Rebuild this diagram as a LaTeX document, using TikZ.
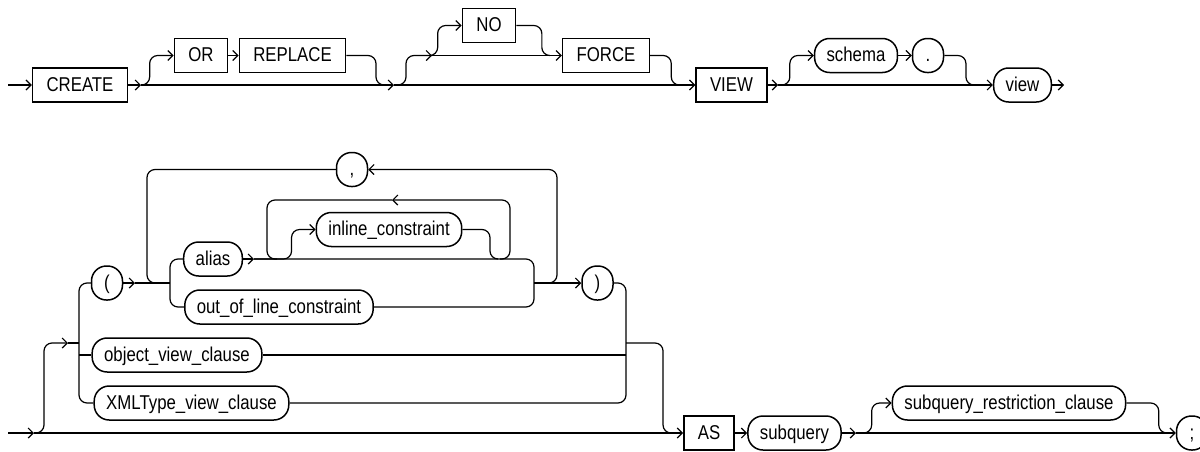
\documentclass[tikz,border=0pt]{standalone}
\usepackage{fontspec}
\setmainfont{Liberation Sans}[FakeStretch=0.84]
\usetikzlibrary{positioning,arrows.meta,calc}
\tikzset{
  kw/.style={rectangle,draw=black,line width=1.5pt,minimum height=34pt,
    inner xsep=14pt,text height=14.5pt,text depth=2pt,
    font=\fontsize{20}{24}\selectfont},
  nt/.style={kw,rounded corners=15pt,inner xsep=12pt,minimum width=31pt},
  rail/.style={line width=1.2pt,rounded corners=8pt},
  tip/.style={-{Straight Barb[length=5pt,width=10pt]}}
}
\begin{document}
\begin{tikzpicture}[x=1pt,y=-1pt]
\useasboundingbox (0,0) rectangle (1200,451);
\coordinate (s1) at (8,85);
\node[kw] (create) at (80,85) {CREATE};
\coordinate (j1) at (141,85);
\node[kw] (or) at (201,55.5) {OR};
\node[kw] (replace) at (292.5,55.5) {REPLACE};
\coordinate (j2) at (394,85);
\coordinate (j3) at (432,55.5);
\node[kw] (no) at (489,25.5) {NO};
\node[kw] (force) at (606,55.5) {FORCE};
\node[kw] (view) at (731.5,85) {VIEW};
\coordinate (j4) at (778,85);
\node[nt] (schema) at (856,55.5) {schema};
\node[nt] (dot) at (928,55.5) {.};
\node[nt] (vname) at (1022.5,85) {view};
\coordinate (e1) at (1064,85);
\draw[rail,tip] (s1) -- (create.west);
\draw[rail,tip] (create.east) -- (j1);
\draw[rail,tip] (j1) -| ($(or.west)+(-24,0)$) -- (or.west);
\draw[rail,tip] (or) -- (replace);
\draw[rail] (replace.east) -| ($(j2)+(-18,0)$) -- ++(8,0);
\draw[rail,tip] (j1) -- (j2);
\draw[rail,tip] (j2) -| ($(j3)+(-26,0)$) -- (j3);
\draw[rail,tip] (j3) -| ($(no.west)+(-24,0)$) -- (no.west);
\draw[rail,tip] (j3) -- (force.west);
\draw[rail] (no.east) -| ($(force.west)+(-20,0)$) -- ++(8,0);
\draw[rail] (force.east) -| ($(view.west)+(-24,0)$) -- ++(8,0);
\draw[rail,tip] (j2) -- (view.west);
\draw[rail,tip] (view.east) -- (j4);
\draw[rail,tip] (j4) -| ($(schema.west)+(-24,0)$) -- (schema.west);
\draw[rail,tip] (schema) -- (dot);
\draw[rail] (dot.east) -| ($(vname.west)+(-27,0)$) -- ++(8,0);
\draw[rail,tip] (j4) -- (vname.west);
\draw[rail,tip] (vname.east) -- (e1);
\coordinate (s2) at (8,433);
\coordinate (j5) at (34,433);
\coordinate (j6) at (68,343);
\coordinate (v1) at (79,343);
\node[nt] (lpar) at (107,283) {(};
\coordinate (j8) at (135,283);
\coordinate (ll) at (147,283);
\coordinate (ga) at (170,283);
\node[nt] (comma) at (352,169.5) {,};
\node[nt] (alias) at (213,259) {alias};
\coordinate (j9) at (254,259);
\coordinate (il) at (267,259);
\node[nt] (inl) at (389,229.5) {inline\_constraint};
\coordinate (la) at (392,200);
\coordinate (ir) at (510,259);
\node[nt] (oolc) at (279,307) {out\_of\_line\_constraint};
\coordinate (gb) at (534,283);
\coordinate (lr) at (557,283);
\node[nt] (rpar) at (597.5,283) {)};
\node[nt] (objv) at (177,355) {object\_view\_clause};
\node[nt] (xml) at (191.5,403) {XMLType\_view\_clause};
\coordinate (v2) at (626,343);
\node[kw] (as) at (709,433) {AS};
\node[nt] (subq) at (794.5,433) {subquery};
\coordinate (j7) at (856,433);
\node[nt] (sqr) at (1009,403) {subquery\_restriction\_clause};
\node[nt] (semi) at (1192,433) {;};
\draw[rail,tip] (s2) -- (j5);
\draw[rail,tip] (j5) -| ($(j6)+(-24,0)$) -- (j6);
\draw[rail] (j6) -- (v1);
\draw[rail] (lpar.west) -| (v1) |- (xml.west);
\draw[rail] (objv.west -| v1) -- (objv.west);
\draw[rail,tip] (lpar.east) -- (j8);
\draw[rail] (j8) -- (ga);
\draw[rail] (alias.west) -| (ga) |- (oolc.west);
\draw[rail] (comma.west) -| (ll) -- ++(10,0);
\draw[rail,tip] ($(lr)+(-10,0)$) -| (lr |- comma.east) -- (comma.east);
\draw[rail,tip] (alias.east) -- (j9);
\draw[rail,tip] (j9) -| ($(inl.west)+(-24,0)$) -- (inl.west);
\draw[rail] (inl.east) -| ($(ir)+(-20,0)$) -- ++(8,0);
\draw[rail,tip] ($(ir)+(-10,0)$) -| (ir |- la) -- (la);
\draw[rail] (la) -| (il) -- ++(10,0);
\draw[rail] (j9) -| (gb) |- (oolc.east);
\draw[rail,tip] (gb) -- (rpar.west);
\draw[rail] (rpar.east) -| (v2) |- (xml.east);
\draw[rail] (objv.east) -- (objv.east -| v2);
\draw[rail] (v2) -| ($(as.west)+(-20,0)$) -- ++(8,0);
\draw[rail,tip] (j5) -- (as.west);
\draw[rail,tip] (as) -- (subq);
\draw[rail,tip] (subq.east) -- (j7);
\draw[rail,tip] (j7) -| ($(sqr.west)+(-20,0)$) -- (sqr.west);
\draw[rail] (sqr.east) -| ($(semi.west)+(-17,0)$) -- ++(8,0);
\draw[rail,tip] (j7) -- (semi.west);
\end{tikzpicture}
\end{document}
